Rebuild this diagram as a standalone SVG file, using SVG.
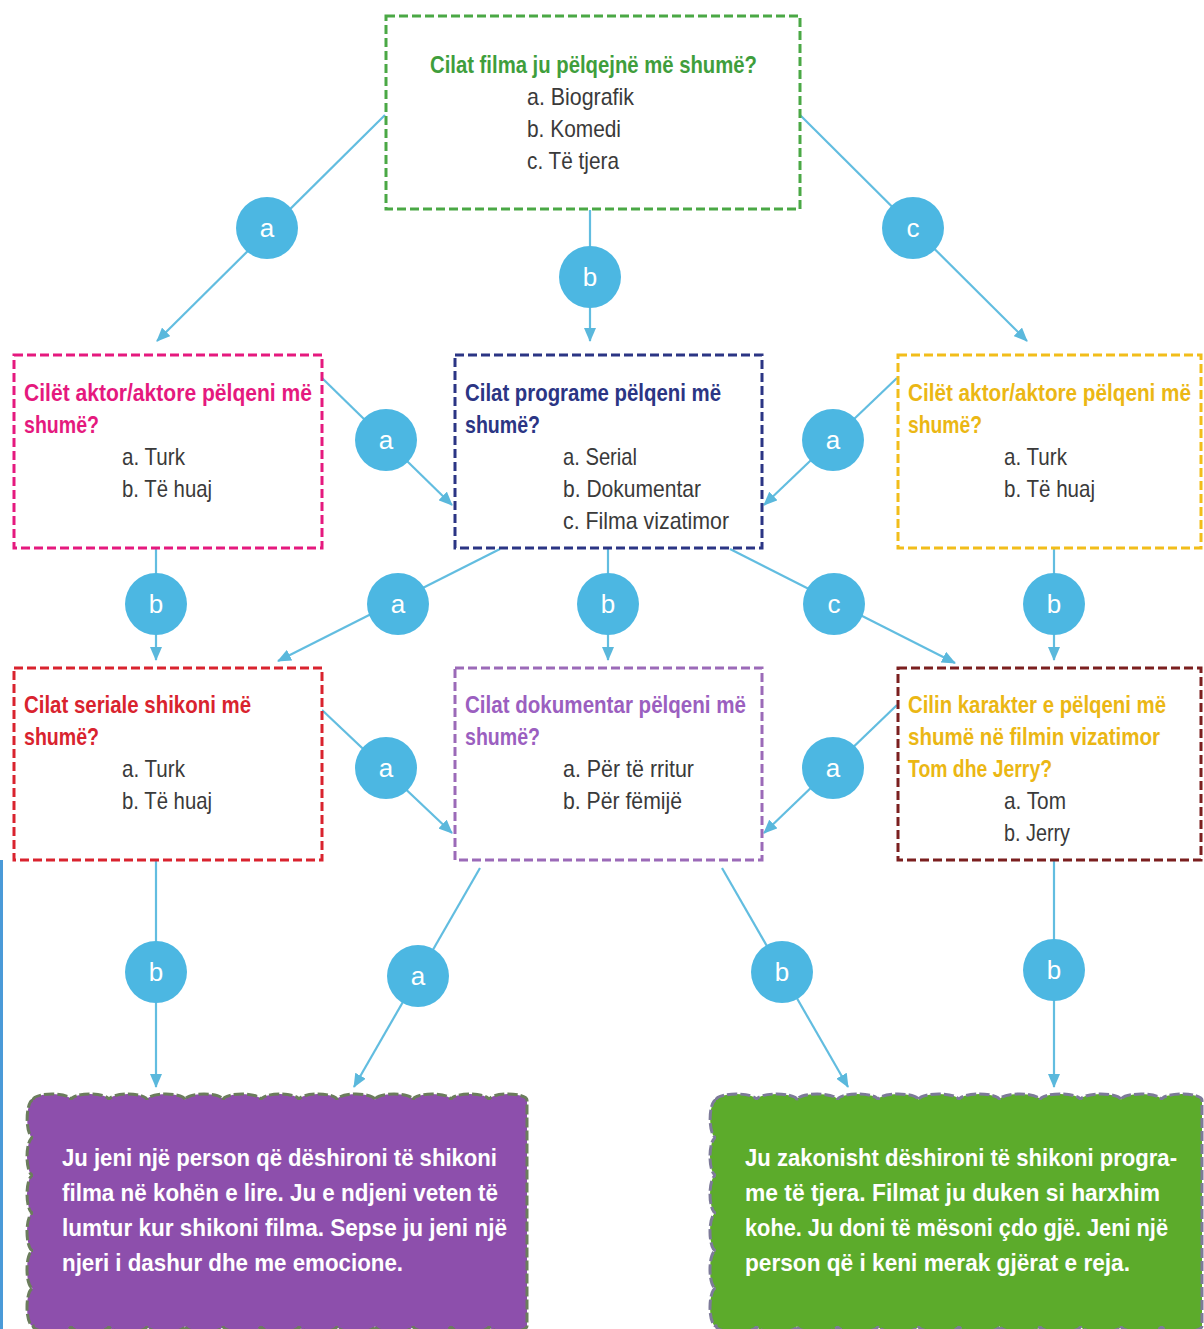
<svg xmlns="http://www.w3.org/2000/svg" width="1204" height="1329" viewBox="0 0 1204 1329">
<style>
  .box { fill: #ffffff; stroke-width: 3; stroke-dasharray: 9 4; }
  .t { font-family: "Liberation Sans", "DejaVu Sans", sans-serif; font-size: 24px; font-weight: bold; }
  .o { font-family: "Liberation Sans", "DejaVu Sans", sans-serif; font-size: 24px; fill: #3a3a3a; }
  .res { font-family: "Liberation Sans", "DejaVu Sans", sans-serif; font-size: 24px; font-weight: bold; fill: #ffffff; }
  .conn { stroke: #62bde0; stroke-width: 2.2; fill: none; marker-end: url(#arr); }
  .badge circle { fill: #4cb7e2; }
  .badge text { font-family: "Liberation Sans", "DejaVu Sans", sans-serif; font-size: 26px; fill: #ffffff; text-anchor: middle; }
</style>
<defs>
  <marker id="arr" viewBox="0 0 14 12" refX="13" refY="6" markerWidth="14" markerHeight="12" markerUnits="userSpaceOnUse" orient="auto">
    <path d="M0,0 L14,6 L0,12 z" fill="#5ab8dc"/>
  </marker>
</defs>
<rect width="1204" height="1329" fill="#ffffff"/>
<rect x="0" y="860" width="3" height="469" fill="#4a9ad8"/>

<g id="connectors">
  <line class="conn" x1="385" y1="115" x2="157" y2="341"/>
  <line class="conn" x1="590" y1="210" x2="590" y2="341"/>
  <line class="conn" x1="800" y1="115" x2="1027" y2="341"/>
  <line class="conn" x1="322" y1="378" x2="452" y2="505"/>
  <line class="conn" x1="897" y1="378" x2="764" y2="505"/>
  <line class="conn" x1="156" y1="548" x2="156" y2="660"/>
  <line class="conn" x1="500" y1="549" x2="278" y2="661"/>
  <line class="conn" x1="608" y1="548" x2="608" y2="660"/>
  <line class="conn" x1="730" y1="549" x2="955" y2="663"/>
  <line class="conn" x1="1054" y1="548" x2="1054" y2="660"/>
  <line class="conn" x1="322" y1="710" x2="452" y2="833"/>
  <line class="conn" x1="897" y1="705" x2="764" y2="833"/>
  <line class="conn" x1="156" y1="860" x2="156" y2="1087"/>
  <line class="conn" x1="480" y1="868" x2="354" y2="1087"/>
  <line class="conn" x1="722" y1="868" x2="848" y2="1087"/>
  <line class="conn" x1="1054" y1="860" x2="1054" y2="1087"/>
</g>

<g id="edge-labels">
  <g class="badge"><circle cx="267" cy="228" r="31"/><text x="267" y="237">a</text></g>
  <g class="badge"><circle cx="590" cy="277" r="31"/><text x="590" y="286">b</text></g>
  <g class="badge"><circle cx="913" cy="228" r="31"/><text x="913" y="237">c</text></g>
  <g class="badge"><circle cx="386" cy="440" r="31"/><text x="386" y="449">a</text></g>
  <g class="badge"><circle cx="833" cy="440" r="31"/><text x="833" y="449">a</text></g>
  <g class="badge"><circle cx="156" cy="604" r="31"/><text x="156" y="613">b</text></g>
  <g class="badge"><circle cx="398" cy="604" r="31"/><text x="398" y="613">a</text></g>
  <g class="badge"><circle cx="608" cy="604" r="31"/><text x="608" y="613">b</text></g>
  <g class="badge"><circle cx="834" cy="604" r="31"/><text x="834" y="613">c</text></g>
  <g class="badge"><circle cx="1054" cy="604" r="31"/><text x="1054" y="613">b</text></g>
  <g class="badge"><circle cx="386" cy="768" r="31"/><text x="386" y="777">a</text></g>
  <g class="badge"><circle cx="833" cy="768" r="31"/><text x="833" y="777">a</text></g>
  <g class="badge"><circle cx="156" cy="972" r="31"/><text x="156" y="981">b</text></g>
  <g class="badge"><circle cx="418" cy="976" r="31"/><text x="418" y="985">a</text></g>
  <g class="badge"><circle cx="782" cy="972" r="31"/><text x="782" y="981">b</text></g>
  <g class="badge"><circle cx="1054" cy="970" r="31"/><text x="1054" y="979">b</text></g>
</g>

<g id="q-filma">
  <rect class="box" x="386" y="16" width="414" height="193" stroke="#4aa845"/>
  <text class="t" x="430" y="73" fill="#3f9e3c" textLength="327" lengthAdjust="spacingAndGlyphs">Cilat filma ju pëlqejnë më shumë?</text>
  <text class="o" x="527" y="105" textLength="107" lengthAdjust="spacingAndGlyphs">a. Biografik</text>
  <text class="o" x="527" y="137" textLength="94" lengthAdjust="spacingAndGlyphs">b. Komedi</text>
  <text class="o" x="527" y="169" textLength="92" lengthAdjust="spacingAndGlyphs">c. Të tjera</text>
</g>

<g id="q-aktor-pink">
  <rect class="box" x="14" y="355" width="308" height="193" stroke="#e5197e"/>
  <text class="t" x="24" y="401" fill="#e5197e" textLength="288" lengthAdjust="spacingAndGlyphs">Cilët aktor/aktore pëlqeni më</text>
  <text class="t" x="24" y="433" fill="#e5197e" textLength="75" lengthAdjust="spacingAndGlyphs">shumë?</text>
  <text class="o" x="122" y="465" textLength="63" lengthAdjust="spacingAndGlyphs">a. Turk</text>
  <text class="o" x="122" y="497" textLength="90" lengthAdjust="spacingAndGlyphs">b. Të huaj</text>
</g>

<g id="q-programe">
  <rect class="box" x="455" y="355" width="307" height="193" stroke="#2b3584"/>
  <text class="t" x="465" y="401" fill="#2b3584" textLength="256" lengthAdjust="spacingAndGlyphs">Cilat programe pëlqeni më</text>
  <text class="t" x="465" y="433" fill="#2b3584" textLength="75" lengthAdjust="spacingAndGlyphs">shumë?</text>
  <text class="o" x="563" y="465" textLength="74" lengthAdjust="spacingAndGlyphs">a. Serial</text>
  <text class="o" x="563" y="497" textLength="138" lengthAdjust="spacingAndGlyphs">b. Dokumentar</text>
  <text class="o" x="563" y="529" textLength="166" lengthAdjust="spacingAndGlyphs">c. Filma vizatimor</text>
</g>

<g id="q-aktor-yellow">
  <rect class="box" x="898" y="355" width="303" height="193" stroke="#f2bd1a"/>
  <text class="t" x="908" y="401" fill="#ebb714" textLength="283" lengthAdjust="spacingAndGlyphs">Cilët aktor/aktore pëlqeni më</text>
  <text class="t" x="908" y="433" fill="#ebb714" textLength="74" lengthAdjust="spacingAndGlyphs">shumë?</text>
  <text class="o" x="1004" y="465" textLength="63" lengthAdjust="spacingAndGlyphs">a. Turk</text>
  <text class="o" x="1004" y="497" textLength="91" lengthAdjust="spacingAndGlyphs">b. Të huaj</text>
</g>

<g id="q-seriale">
  <rect class="box" x="14" y="668" width="308" height="192" stroke="#d9232e"/>
  <text class="t" x="24" y="713" fill="#d9232e" textLength="227" lengthAdjust="spacingAndGlyphs">Cilat seriale shikoni më</text>
  <text class="t" x="24" y="745" fill="#d9232e" textLength="75" lengthAdjust="spacingAndGlyphs">shumë?</text>
  <text class="o" x="122" y="777" textLength="63" lengthAdjust="spacingAndGlyphs">a. Turk</text>
  <text class="o" x="122" y="809" textLength="90" lengthAdjust="spacingAndGlyphs">b. Të huaj</text>
</g>

<g id="q-dokumentar">
  <rect class="box" x="455" y="668" width="307" height="192" stroke="#9b6ab8"/>
  <text class="t" x="465" y="713" fill="#9b5fc0" textLength="281" lengthAdjust="spacingAndGlyphs">Cilat dokumentar pëlqeni më</text>
  <text class="t" x="465" y="745" fill="#9b5fc0" textLength="75" lengthAdjust="spacingAndGlyphs">shumë?</text>
  <text class="o" x="563" y="777" textLength="131" lengthAdjust="spacingAndGlyphs">a. Për të rritur</text>
  <text class="o" x="563" y="809" textLength="119" lengthAdjust="spacingAndGlyphs">b. Për fëmijë</text>
</g>

<g id="q-karakter">
  <rect class="box" x="898" y="668" width="303" height="192" stroke="#7b1f1f"/>
  <text class="t" x="908" y="713" fill="#ebb714" textLength="258" lengthAdjust="spacingAndGlyphs">Cilin karakter e pëlqeni më</text>
  <text class="t" x="908" y="745" fill="#ebb714" textLength="252" lengthAdjust="spacingAndGlyphs">shumë në filmin vizatimor</text>
  <text class="t" x="908" y="777" fill="#ebb714" textLength="144" lengthAdjust="spacingAndGlyphs">Tom dhe Jerry?</text>
  <text class="o" x="1004" y="809" textLength="62" lengthAdjust="spacingAndGlyphs">a. Tom</text>
  <text class="o" x="1004" y="841" textLength="66" lengthAdjust="spacingAndGlyphs">b. Jerry</text>
</g>

<g id="result-filma">
  <path d="M33,1100 a19,6 0 0 1 38,0 a19,6 0 0 1 38,0 a19,6 0 0 1 38,0 a19,6 0 0 1 38,0 a19,6 0 0 1 38,0 a19,6 0 0 1 38,0 a19,6 0 0 1 38,0 a19,6 0 0 1 38,0 a19,6 0 0 1 38,0 a19,6 0 0 1 38,0 a19,6 0 0 1 38,0 a19,6 0 0 1 38,0 a19,6 0 0 1 38,0 L527,1326 a19,6 0 0 1 -38,0 a19,6 0 0 1 -38,0 a19,6 0 0 1 -38,0 a19,6 0 0 1 -38,0 a19,6 0 0 1 -38,0 a19,6 0 0 1 -38,0 a19,6 0 0 1 -38,0 a19,6 0 0 1 -38,0 a19,6 0 0 1 -38,0 a19,6 0 0 1 -38,0 a19,6 0 0 1 -38,0 a19,6 0 0 1 -38,0 a19,6 0 0 1 -38,0 a6,18.83 0 0 1 0,-37.67 a6,18.83 0 0 1 0,-37.67 a6,18.83 0 0 1 0,-37.67 a6,18.83 0 0 1 0,-37.67 a6,18.83 0 0 1 0,-37.67 a6,18.83 0 0 1 0,-37.65 z" fill="#8d4fac" stroke="#6b7d5c" stroke-width="3" stroke-dasharray="10 3"/>
  <text class="res" x="62" y="1166" textLength="435" lengthAdjust="spacingAndGlyphs">Ju jeni një person që dëshironi të shikoni</text>
  <text class="res" x="62" y="1201" textLength="436" lengthAdjust="spacingAndGlyphs">filma në kohën e lire. Ju e ndjeni veten të</text>
  <text class="res" x="62" y="1236" textLength="445" lengthAdjust="spacingAndGlyphs">lumtur kur shikoni filma. Sepse ju jeni një</text>
  <text class="res" x="62" y="1271" textLength="341" lengthAdjust="spacingAndGlyphs">njeri i dashur dhe me emocione.</text>
</g>

<g id="result-programe">
  <path d="M716,1100 a20.25,6 0 0 1 40.5,0 a20.25,6 0 0 1 40.5,0 a20.25,6 0 0 1 40.5,0 a20.25,6 0 0 1 40.5,0 a20.25,6 0 0 1 40.5,0 a20.25,6 0 0 1 40.5,0 a20.25,6 0 0 1 40.5,0 a20.25,6 0 0 1 40.5,0 a20.25,6 0 0 1 40.5,0 a20.25,6 0 0 1 40.5,0 a20.25,6 0 0 1 40.5,0 a20.25,6 0 0 1 40.5,0 L1202,1326 a20.25,6 0 0 1 -40.5,0 a20.25,6 0 0 1 -40.5,0 a20.25,6 0 0 1 -40.5,0 a20.25,6 0 0 1 -40.5,0 a20.25,6 0 0 1 -40.5,0 a20.25,6 0 0 1 -40.5,0 a20.25,6 0 0 1 -40.5,0 a20.25,6 0 0 1 -40.5,0 a20.25,6 0 0 1 -40.5,0 a20.25,6 0 0 1 -40.5,0 a20.25,6 0 0 1 -40.5,0 a20.25,6 0 0 1 -40.5,0 a6,18.83 0 0 1 0,-37.67 a6,18.83 0 0 1 0,-37.67 a6,18.83 0 0 1 0,-37.67 a6,18.83 0 0 1 0,-37.67 a6,18.83 0 0 1 0,-37.67 a6,18.83 0 0 1 0,-37.65 z" fill="#5cab2b" stroke="#7d7a99" stroke-width="3" stroke-dasharray="10 3"/>
  <text class="res" x="745" y="1166" textLength="432" lengthAdjust="spacingAndGlyphs">Ju zakonisht dëshironi të shikoni progra-</text>
  <text class="res" x="745" y="1201" textLength="415" lengthAdjust="spacingAndGlyphs">me të tjera. Filmat ju duken si harxhim</text>
  <text class="res" x="745" y="1236" textLength="423" lengthAdjust="spacingAndGlyphs">kohe. Ju doni të mësoni çdo gjë. Jeni një</text>
  <text class="res" x="745" y="1271" textLength="385" lengthAdjust="spacingAndGlyphs">person që i keni merak gjërat e reja.</text>
</g>
</svg>
